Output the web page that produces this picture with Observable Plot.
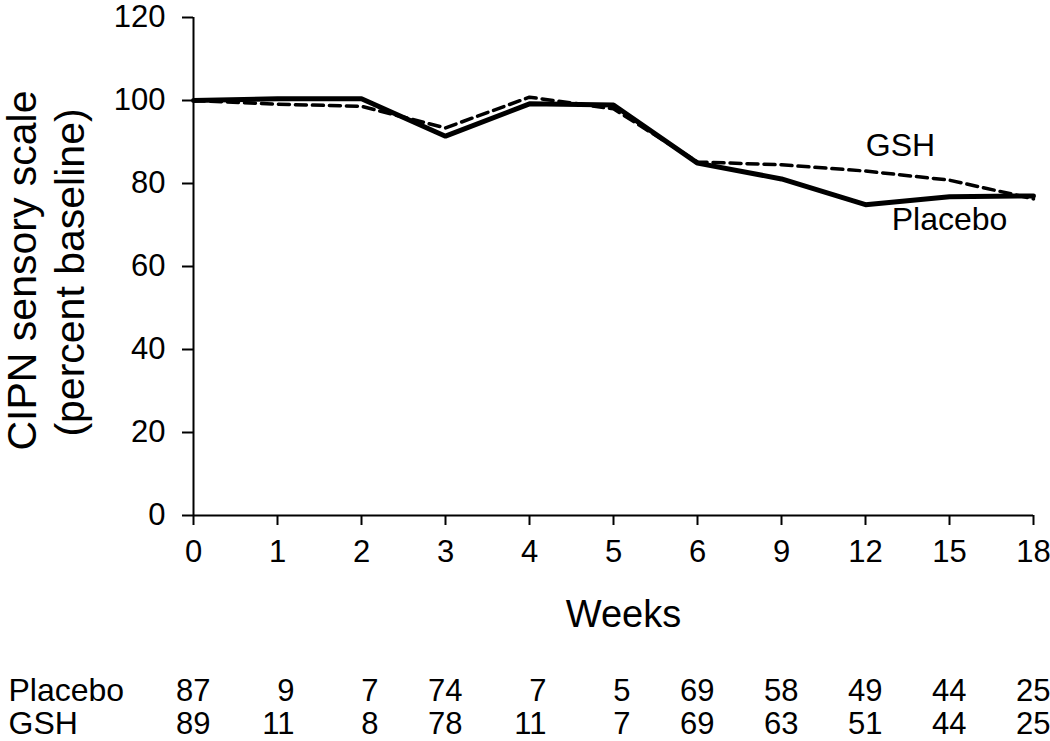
<!DOCTYPE html>
<html>
<head>
<meta charset="utf-8">
<script src="https://cdn.jsdelivr.net/npm/d3@7"></script>
<script src="https://cdn.jsdelivr.net/npm/@observablehq/plot@0.6"></script>
<style>
  html, body { margin: 0; padding: 0; background: #fff; }
  #chart { width: 1050px; height: 741px; }
</style>
</head>
<body>
<div id="chart"></div>
<script>
const weeks = ["0", "1", "2", "3", "4", "5", "6", "9", "12", "15", "18"];
const placebo = [100, 100.4, 100.4, 91.4, 99.2, 98.9, 84.9, 81.1, 74.9, 76.8, 77.0];
const gsh = [100, 99.1, 98.6, 93.4, 100.8, 98.0, 85.2, 84.5, 83.0, 80.8, 76.3];
const placeboN = [87, 9, 7, 74, 7, 5, 69, 58, 49, 44, 25];
const gshN = [89, 11, 8, 78, 11, 7, 69, 63, 51, 44, 25];
const yTicks = [0, 20, 40, 60, 80, 100, 120];
const seriesNames = ["Placebo", "GSH"];

const placeboData = weeks.map((w, i) => ({week: w, value: placebo[i], n: placeboN[i]}));
const gshData = weeks.map((w, i) => ({week: w, value: gsh[i], n: gshN[i]}));

const font = "'Liberation Sans', Arial, Helvetica, sans-serif";

const chart = Plot.plot({
  width: 1050,
  height: 741,
  marginLeft: 193,
  marginRight: 17,
  marginTop: 17,
  marginBottom: 226,
  style: {fontFamily: font, background: "#fff", color: "#000"},
  x: {type: "point", domain: weeks, padding: 0, axis: null},
  y: {domain: [0, 120], axis: null},
  marks: [
    // axes
    Plot.ruleY([0], {stroke: "#000", strokeWidth: 2}),
    Plot.ruleX([weeks[0]], {y1: 0, y2: 120, stroke: "#000", strokeWidth: 2}),
    Plot.axisY({ticks: yTicks, tickSize: 11, tickPadding: 17, fontSize: 31, strokeWidth: 2, label: null, tickFormat: d => d}),
    Plot.axisX({tickSize: 10, tickPadding: 14, fontSize: 31, strokeWidth: 2, label: null}),
    // axis titles
    Plot.text(["CIPN sensory scale"], {frameAnchor: "left", text: d => d, rotate: -90, fontSize: 41, lineAnchor: "bottom", textAnchor: "middle", dx: -158, dy: 4}),
    Plot.text(["(percent baseline)"], {frameAnchor: "left", text: d => d, rotate: -90, fontSize: 41, lineAnchor: "bottom", textAnchor: "middle", dx: -110, dy: 6}),
    Plot.text(["Weeks"], {frameAnchor: "bottom", text: d => d, fontSize: 38, lineAnchor: "bottom", dx: 10, dy: 111}),
    // lines
    Plot.line(placeboData, {x: "week", y: "value", stroke: "#000", strokeWidth: 5, strokeLinejoin: "miter"}),
    Plot.line(gshData, {x: "week", y: "value", stroke: "#000", strokeWidth: 3.5, strokeDasharray: "11,6"}),
    // series labels
    Plot.text(gshData.filter(d => d.week === "12"), {x: "week", y: "value", text: () => seriesNames[1], fontSize: 32, lineAnchor: "bottom", textAnchor: "middle", dx: 35, dy: -15}),
    Plot.text(placeboData.filter(d => d.week === "15"), {x: "week", y: "value", text: () => seriesNames[0], fontSize: 32, lineAnchor: "bottom", textAnchor: "middle", dx: 0, dy: 33}),
    // number-at-risk table
    Plot.text([seriesNames[0]], {frameAnchor: "bottom-left", text: d => d, fontSize: 32, lineAnchor: "bottom", textAnchor: "start", dx: -185, dy: 185}),
    Plot.text([seriesNames[1]], {frameAnchor: "bottom-left", text: d => d, fontSize: 32, lineAnchor: "bottom", textAnchor: "start", dx: -185, dy: 218}),
    Plot.text(placeboData, {x: "week", frameAnchor: "bottom", text: "n", fontSize: 31, lineAnchor: "bottom", textAnchor: "end", dx: 17, dy: 185}),
    Plot.text(gshData, {x: "week", frameAnchor: "bottom", text: "n", fontSize: 31, lineAnchor: "bottom", textAnchor: "end", dx: 17, dy: 218})
  ]
});
document.getElementById("chart").appendChild(chart);
</script>
</body>
</html>
